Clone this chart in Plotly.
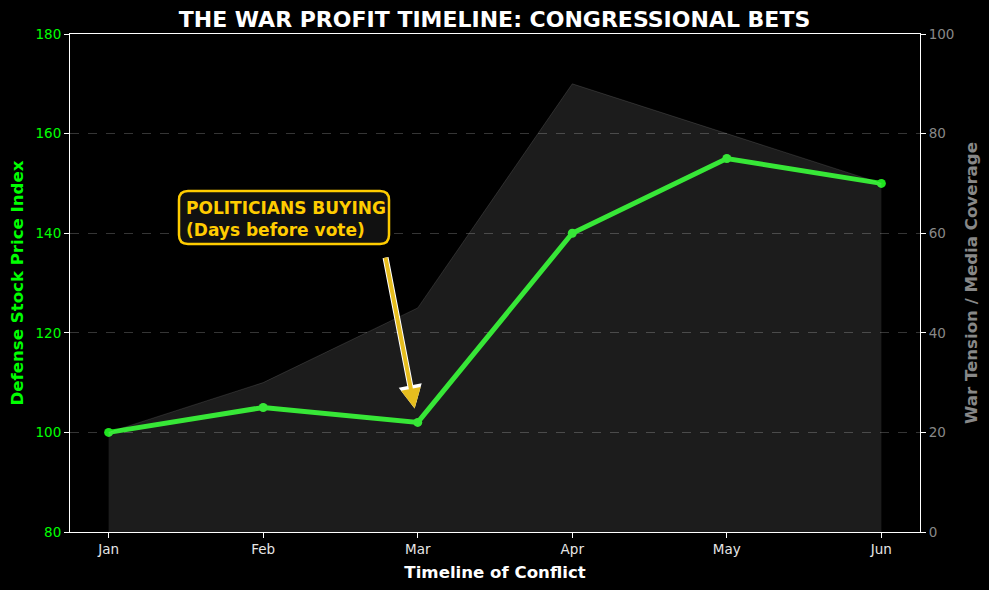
import plotly.graph_objects as go

months = ["Jan", "Feb", "Mar", "Apr", "May", "Jun"]
stock_index = [100, 105, 102, 140, 155, 150]
war_tension = [20, 30, 45, 90, 80, 70]

font_name = "DejaVu Sans"

# plot area in pixels, used for placing the callout box
L, R, T, B = 70, 920, 34, 532
X_RANGE = [-0.25, 5.25]
Y_RANGE = [80, 180]


def px_x(p):
    return X_RANGE[0] + (p - L) / (R - L) * (X_RANGE[1] - X_RANGE[0])


def px_y(p):
    return Y_RANGE[0] + (B - p) / (B - T) * (Y_RANGE[1] - Y_RANGE[0])


def rounded_box(x0, y0, x1, y1, r):
    # x0,y0 top-left / x1,y1 bottom-right in pixels
    pts = [
        ("M", x0 + r, y0), ("L", x1 - r, y0), ("Q", x1, y0, x1, y0 + r),
        ("L", x1, y1 - r), ("Q", x1, y1, x1 - r, y1),
        ("L", x0 + r, y1), ("Q", x0, y1, x0, y1 - r),
        ("L", x0, y0 + r), ("Q", x0, y0, x0 + r, y0),
    ]
    out = []
    for p in pts:
        cmd, vals = p[0], p[1:]
        coords = []
        for i in range(0, len(vals), 2):
            coords.append(f"{px_x(vals[i]):.4f},{px_y(vals[i + 1]):.4f}")
        out.append(cmd + " ".join(coords))
    return " ".join(out) + " Z"


fig = go.Figure()

# grey area on the right axis
fig.add_trace(go.Scatter(
    x=months, y=war_tension, yaxis="y2",
    mode="lines", fill="tozeroy",
    fillcolor="rgba(255,255,255,0.11)",
    line=dict(color="rgba(255,255,255,0.12)", width=1),
    showlegend=False, hoverinfo="skip",
))

# stock index line
fig.add_trace(go.Scatter(
    x=months, y=stock_index,
    mode="lines+markers",
    line=dict(color="#1fe41f", width=5),
    marker=dict(color="#1fe41f", size=9),
    showlegend=False,
))

# arrow: white outline under gold arrow
for col, w, s in [("white", 6, 0.78), ("#e6bd1e", 4, 1.0)]:
    fig.add_annotation(
        x=1.98, y=104.8, ax=1.79, ay=135.4,
        xref="x", yref="y", axref="x", ayref="y",
        text="", showarrow=True,
        arrowhead=2, arrowsize=s, arrowwidth=w, arrowcolor=col,
    )

fig.add_shape(
    type="path", xref="x", yref="y", layer="above",
    path=rounded_box(179, 191, 389, 244, 9),
    fillcolor="#111111", line=dict(color="#ffcc00", width=2.5),
)

fig.add_annotation(
    x=px_x(185), y=px_y(197), xref="x", yref="y",
    xanchor="left", yanchor="top", align="left",
    text="<b>POLITICIANS BUYING<br>(Days before vote)</b>",
    showarrow=False,
    font=dict(family=font_name, size=17, color="#ffcc00"),
    borderpad=0,
)

fig.update_layout(
    width=989, height=590,
    paper_bgcolor="black", plot_bgcolor="black",
    margin=dict(l=L, r=989 - R, t=T, b=590 - B, autoexpand=False),
    font=dict(family=font_name, color="white"),
    title=dict(
        text="<b>THE WAR PROFIT TIMELINE: CONGRESSIONAL BETS</b>",
        x=0.5, xanchor="center", y=0.967, yanchor="middle",
        font=dict(size=22, color="white", family=font_name),
    ),
    xaxis=dict(
        range=X_RANGE, showgrid=False, zeroline=False, automargin=False,
        showline=True, linecolor="white", linewidth=1, mirror=True,
        ticks="outside", tickcolor="white", ticklen=5,
        tickfont=dict(size=13.5, color="#e6e6e6"),
        title=dict(text="<b>Timeline of Conflict</b>", standoff=10,
                   font=dict(size=16.6, color="white")),
    ),
    yaxis=dict(
        range=Y_RANGE, dtick=20, zeroline=False, automargin=False,
        showgrid=True, gridcolor="#353535", griddash="dash", gridwidth=1,
        showline=True, linecolor="white", linewidth=1,
        ticks="outside", tickcolor="white", ticklen=5,
        tickfont=dict(size=13.5, color="#00ff00"),
        title=dict(text="<b>Defense Stock Price Index</b>", standoff=7,
                   font=dict(size=16.6, color="#00ff00")),
    ),
    yaxis2=dict(
        range=[0, 100], dtick=20, overlaying="y", side="right",
        showgrid=False, zeroline=False, automargin=False,
        showline=True, linecolor="white", linewidth=1,
        ticks="outside", tickcolor="white", ticklen=5,
        tickfont=dict(size=13.5, color="#888888"),
        title=dict(text="<b>War Tension / Media Coverage</b>", standoff=11,
                   font=dict(size=16.6, color="#888888")),
    ),
)

fig.write_html("out.html", config={"displayModeBar": False},
               post_script="document.body.style.margin='0';")
